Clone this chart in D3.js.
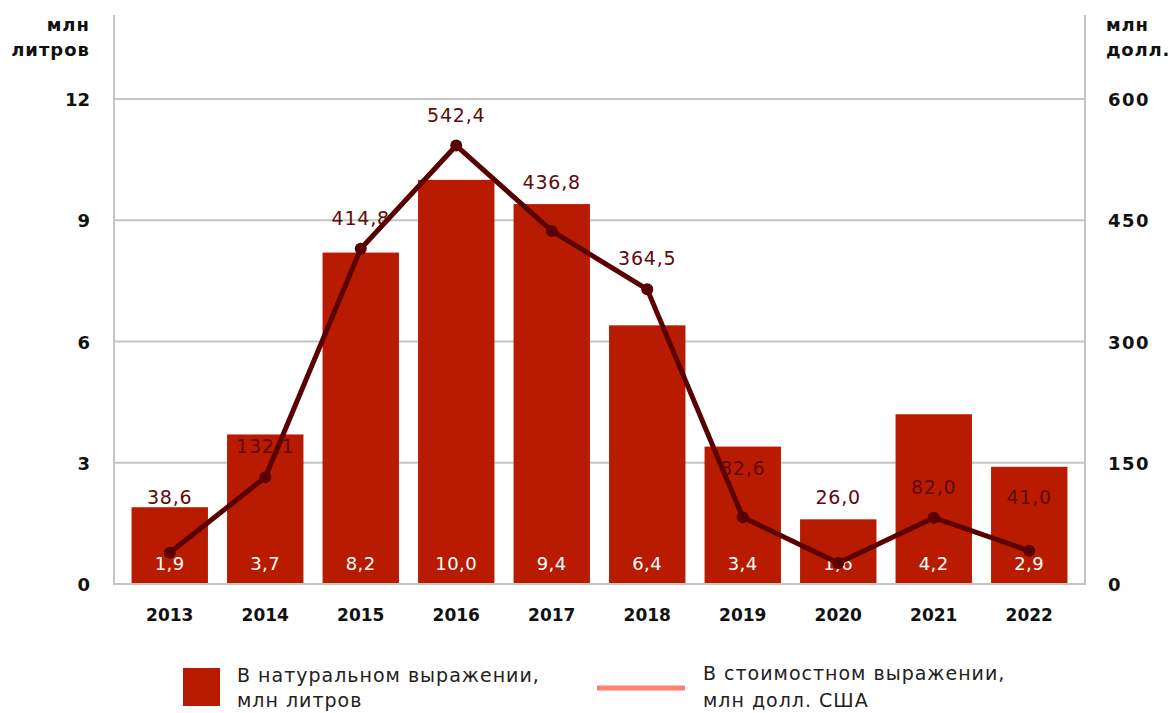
<!DOCTYPE html>
<html>
<head>
<meta charset="utf-8">
<script src="https://cdn.jsdelivr.net/npm/d3@7"></script>
<style>
  html, body { margin: 0; padding: 0; background: #fff; }
  svg { display: block; font-family: "DejaVu Sans", "Noto Sans", sans-serif; }
</style>
</head>
<body>
<svg id="chart" width="1173" height="713"></svg>
<script>
// Years on the x axis
const years = ["2013", "2014", "2015", "2016", "2017", "2018", "2019", "2020", "2021", "2022"];
// Volume, million litres (bars, left axis)
const volume = [1.9, 3.7, 8.2, 10.0, 9.4, 6.4, 3.4, 1.6, 4.2, 2.9];
// Value, million US dollars (line, right axis)
const valueUsd = [38.6, 132.1, 414.8, 542.4, 436.8, 364.5, 82.6, 26.0, 82.0, 41.0];
// Axis ticks
const leftTicks = [0, 3, 6, 9, 12];
const rightTicks = [0, 150, 300, 450, 600];
// Axis titles and legend texts
const leftTitle = ["млн", "литров"];
const rightTitle = ["млн", "долл."];
const legendBar = ["В натуральном выражении,", "млн литров"];
const legendLine = ["В стоимостном выражении,", "млн долл. США"];

const fmt = v => v.toFixed(1).replace(".", ",");

const svg = d3.select("#chart");
const plot = { left: 114, right: 1085, top: 15, bottom: 584 };

const x = d3.scaleBand().domain(years).range([122, 1077]).paddingInner(0.2).paddingOuter(0.1);
const yL = d3.scaleLinear().domain([0, 12]).range([plot.bottom, 99]);
const yR = d3.scaleLinear().domain([0, 600]).range([plot.bottom, 99]);

const gridColor = "#c4c4c4";
const barColor = "#b81b00";
const lineColor = "#5a0000";

// Horizontal gridlines
svg.append("g").selectAll("line").data(leftTicks.filter(t => t > 0)).join("line")
  .attr("x1", plot.left).attr("x2", plot.right)
  .attr("y1", d => yL(d)).attr("y2", d => yL(d))
  .attr("stroke", gridColor).attr("stroke-width", 2);

// Bars
svg.append("g").selectAll("rect").data(years).join("rect")
  .attr("x", d => x(d))
  .attr("width", x.bandwidth())
  .attr("y", (d, i) => yL(volume[i]))
  .attr("height", (d, i) => yL(0) - yL(volume[i]))
  .attr("fill", barColor);

// Frame: left, right and bottom axis lines
const frame = svg.append("g").attr("stroke", gridColor).attr("stroke-width", 2);
frame.append("line").attr("x1", plot.left).attr("x2", plot.left).attr("y1", plot.top).attr("y2", plot.bottom + 1);
frame.append("line").attr("x1", plot.right).attr("x2", plot.right).attr("y1", plot.top).attr("y2", plot.bottom + 1);
frame.append("line").attr("x1", plot.left).attr("x2", plot.right).attr("y1", plot.bottom).attr("y2", plot.bottom);

// Bar value labels
svg.append("g").selectAll("text").data(years).join("text")
  .attr("x", d => x(d) + x.bandwidth() / 2)
  .attr("y", 570)
  .attr("text-anchor", "middle")
  .attr("fill", "#ffffff")
  .attr("font-size", 18)
  .attr("letter-spacing", 0.5)
  .text((d, i) => fmt(volume[i]));

// Value line
const cx = d => x(d) + x.bandwidth() / 2;
const line = d3.line().x(d => cx(d)).y((d, i) => yR(valueUsd[i]));
svg.append("path").datum(years)
  .attr("d", line)
  .attr("fill", "none")
  .attr("stroke", lineColor)
  .attr("stroke-width", 5)
  .attr("stroke-linejoin", "round");

svg.append("g").selectAll("circle").data(years).join("circle")
  .attr("cx", d => cx(d))
  .attr("cy", (d, i) => yR(valueUsd[i]))
  .attr("r", 6)
  .attr("fill", lineColor);

// Line value labels: lifted higher where a steep drop comes in from the left,
// and kept clear of the bar labels near the baseline
const labelY = i => {
  const py = yR(valueUsd[i]);
  const drop = i > 0 ? py - yR(valueUsd[i - 1]) : 0;
  const off = drop > 70 ? 42 : 24;
  return Math.min(py - off, 504);
};
svg.append("g").selectAll("text").data(years).join("text")
  .attr("x", d => cx(d))
  .attr("y", (d, i) => labelY(i))
  .attr("text-anchor", "middle")
  .attr("fill", "#5e0a0a")
  .attr("font-size", 19)
  .attr("letter-spacing", 0.8)
  .text((d, i) => fmt(valueUsd[i]));

// X axis labels
svg.append("g").selectAll("text").data(years).join("text")
  .attr("x", d => cx(d))
  .attr("y", 621)
  .attr("text-anchor", "middle")
  .attr("font-size", 17)
  .attr("font-weight", 700)
  .attr("fill", "#111")
  .text(d => d);

// Left axis tick labels
svg.append("g").selectAll("text").data(leftTicks).join("text")
  .attr("x", 90)
  .attr("y", d => yL(d) + 7)
  .attr("text-anchor", "end")
  .attr("font-size", 18)
  .attr("font-weight", 700)
  .attr("fill", "#111")
  .text(d => d);

// Right axis tick labels
svg.append("g").selectAll("text").data(rightTicks).join("text")
  .attr("x", 1108)
  .attr("y", d => yR(d) + 7)
  .attr("text-anchor", "start")
  .attr("font-size", 18)
  .attr("font-weight", 700)
  .attr("letter-spacing", 1.5)
  .attr("fill", "#111")
  .text(d => d);

// Axis titles
svg.append("g").selectAll("text").data(leftTitle).join("text")
  .attr("x", 90).attr("y", (d, i) => 31 + i * 25)
  .attr("text-anchor", "end")
  .attr("font-size", 18).attr("font-weight", 700).attr("letter-spacing", 1).attr("fill", "#111")
  .text(d => d);
svg.append("g").selectAll("text").data(rightTitle).join("text")
  .attr("x", 1106).attr("y", (d, i) => 31 + i * 25)
  .attr("text-anchor", "start")
  .attr("font-size", 18).attr("font-weight", 700).attr("letter-spacing", 0.8).attr("fill", "#111")
  .text(d => d);

// Legend
const legend = svg.append("g");
legend.append("rect").attr("x", 183).attr("y", 668).attr("width", 37).attr("height", 38).attr("fill", barColor);
legend.append("g").selectAll("text").data(legendBar).join("text")
  .attr("x", 237).attr("y", (d, i) => 682 + i * 25)
  .attr("font-size", 19).attr("letter-spacing", 1).attr("fill", "#222")
  .text(d => d);
legend.append("line").attr("x1", 597).attr("x2", 685).attr("y1", 688).attr("y2", 688)
  .attr("stroke", "#ff7f72").attr("stroke-width", 5);
legend.append("g").selectAll("text").data(legendLine).join("text")
  .attr("x", 703).attr("y", (d, i) => 680 + i * 27)
  .attr("font-size", 19).attr("letter-spacing", 1).attr("fill", "#222")
  .text(d => d);
</script>
</body>
</html>
